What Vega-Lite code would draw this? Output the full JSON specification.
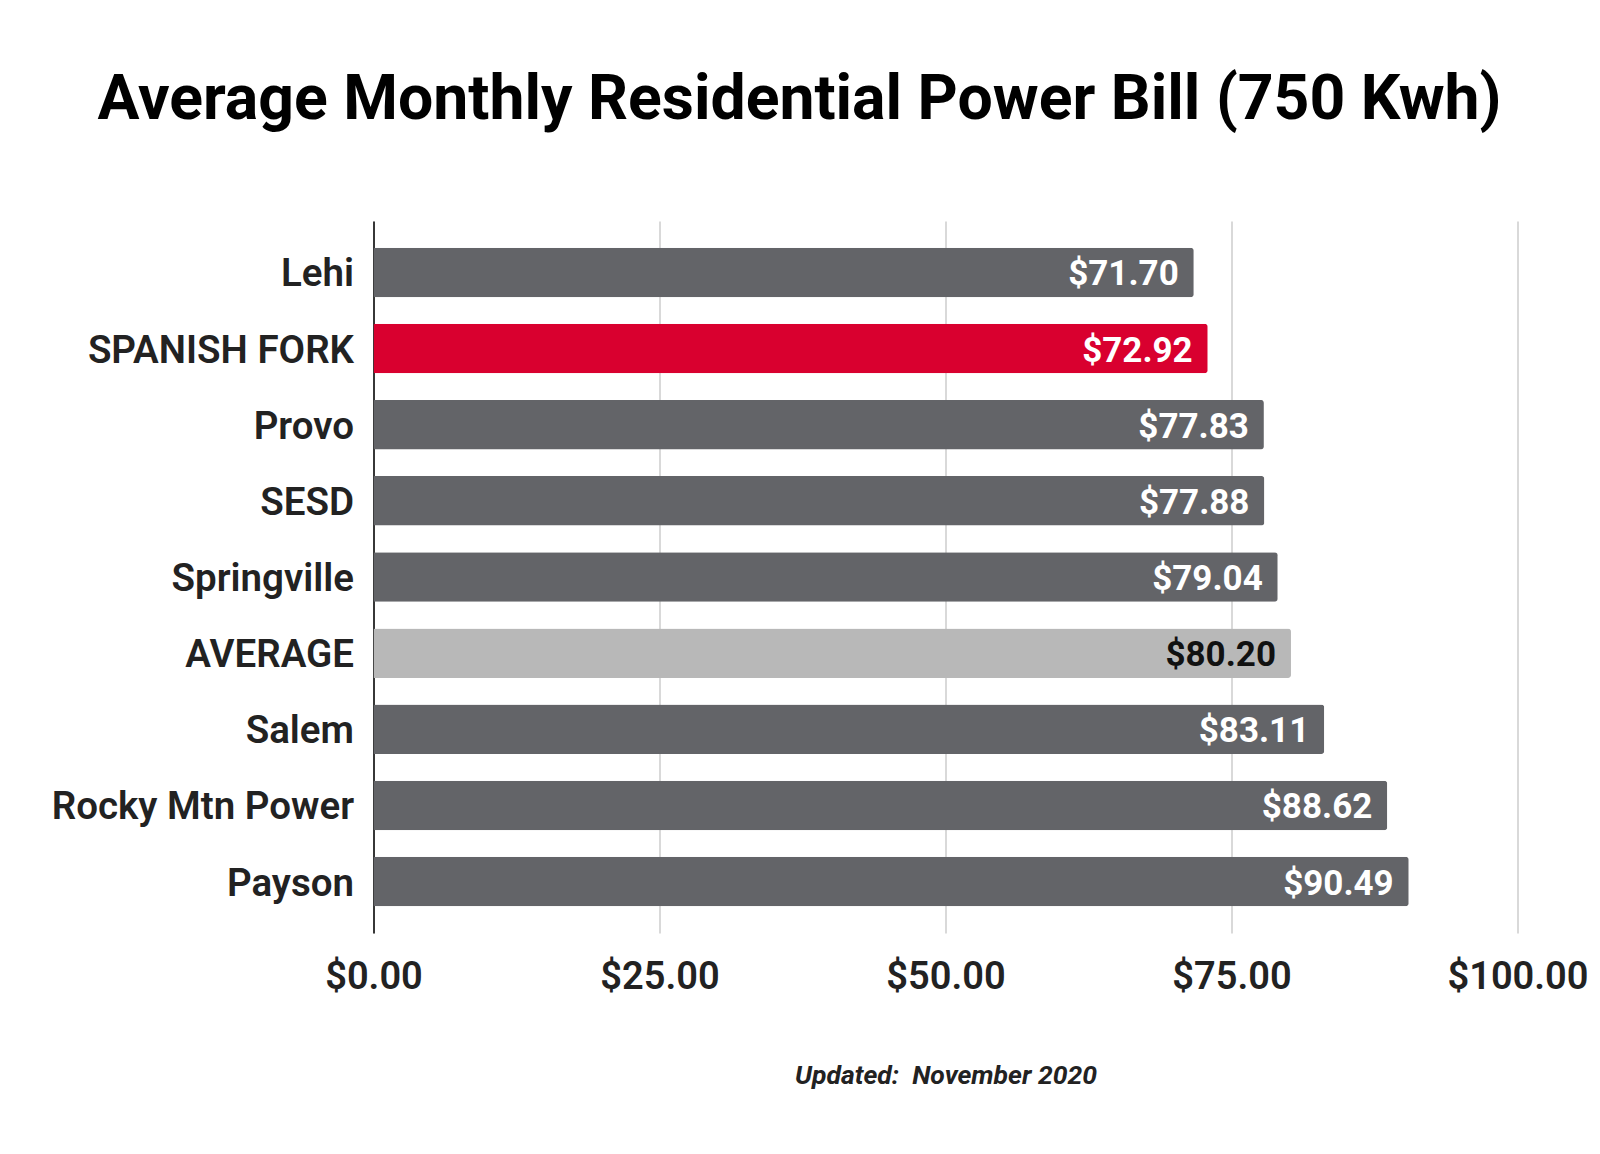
{
  "$schema": "https://vega.github.io/schema/vega-lite/v6.json",
  "autosize": "none",
  "width": 1144,
  "height": 712,
  "padding": {"left": 373.5, "top": 221, "right": 82.5, "bottom": 221},
  "background": "white",
  "title": {
    "text": "Average Monthly Residential Power Bill (750 Kwh)",
    "font": "Roboto",
    "fontSize": 62.5,
    "fontWeight": "bold",
    "color": "#000000",
    "anchor": "middle",
    "frame": "group",
    "dx": -146,
    "offset": 89
  },
  "data": {
    "values": [
      {"name": "Lehi", "value": 71.70, "kind": "other"},
      {"name": "SPANISH FORK", "value": 72.92, "kind": "highlight"},
      {"name": "Provo", "value": 77.83, "kind": "other"},
      {"name": "SESD", "value": 77.88, "kind": "other"},
      {"name": "Springville", "value": 79.04, "kind": "other"},
      {"name": "AVERAGE", "value": 80.20, "kind": "average"},
      {"name": "Salem", "value": 83.11, "kind": "other"},
      {"name": "Rocky Mtn Power", "value": 88.62, "kind": "other"},
      {"name": "Payson", "value": 90.49, "kind": "other"}
    ]
  },
  "encoding": {
    "y": {
      "field": "name",
      "type": "nominal",
      "sort": null,
      "scale": {"paddingInner": 0.35, "paddingOuter": 0.35},
      "axis": {
        "title": null,
        "ticks": false,
        "domain": true,
        "domainColor": "#000000",
        "domainWidth": 1.5,
        "labelFont": "Roboto",
        "labelFontSize": 38.5,
        "labelFontWeight": 600,
        "labelColor": "#222222",
        "labelPadding": 20,
        "labelLimit": 400,
        "labelOffset": 2,
        "grid": false
      }
    },
    "x": {
      "field": "value",
      "type": "quantitative",
      "scale": {"domain": [0, 100], "nice": false},
      "axis": {
        "values": [0, 25, 50, 75, 100],
        "format": "$.2f",
        "title": "Updated:\u00a0 November 2020",
        "titleFont": "Roboto",
        "titleFontSize": 26.5,
        "titleFontWeight": "bold",
        "titleFontStyle": "italic",
        "titleColor": "#222222",
        "titlePadding": 66,
        "domain": false,
        "ticks": false,
        "grid": true,
        "gridColor": "#cccccc",
        "gridWidth": 1.5,
        "labelFont": "Roboto",
        "labelFontSize": 38,
        "labelFontWeight": 600,
        "labelColor": "#222222",
        "labelPadding": 25,
        "labelFlush": false
      }
    }
  },
  "layer": [
    {
      "mark": {"type": "bar", "cornerRadiusEnd": 3},
      "encoding": {
        "color": {
          "field": "kind",
          "type": "nominal",
          "scale": {"domain": ["other", "highlight", "average"], "range": ["#636468", "#D9002F", "#B8B8B8"]},
          "legend": null
        }
      }
    },
    {
      "mark": {"type": "text", "align": "right", "baseline": "middle", "dx": -15, "dy": 2, "font": "Roboto", "fontSize": 35, "fontWeight": "bold"},
      "encoding": {
        "text": {"field": "value", "type": "quantitative", "format": "$.2f"},
        "color": {
          "condition": {"test": "datum.kind === 'average'", "value": "#111111"},
          "value": "#ffffff"
        }
      }
    }
  ],
  "config": {"view": {"stroke": null}}
}
